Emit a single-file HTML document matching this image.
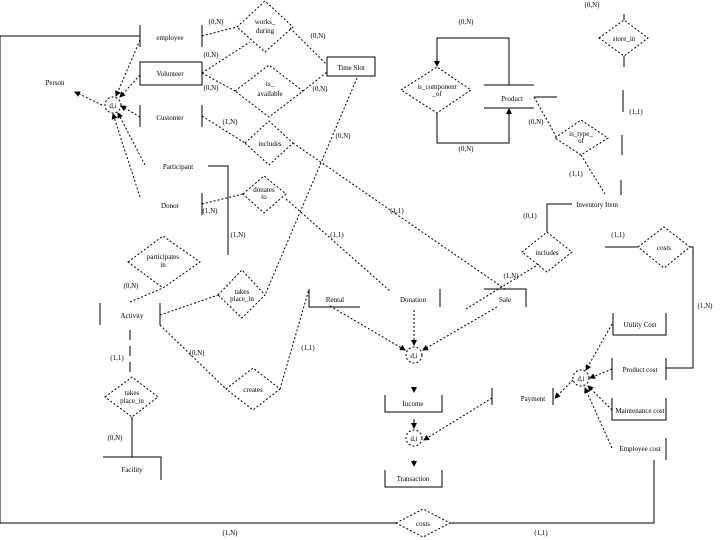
<!DOCTYPE html>
<html><head><style>body{margin:0;background:#fff}svg{display:block}text{font-family:"Liberation Serif",serif;font-size:7px;fill:#000;text-anchor:middle}</style></head>
<body>
<svg width="720" height="540" viewBox="0 0 720 540" xmlns="http://www.w3.org/2000/svg">
<defs><marker id="a" markerWidth="6" markerHeight="6" refX="5" refY="3" orient="auto"><path d="M0,0L6,3L0,6z" fill="#000"/></marker></defs>
<g stroke="#000" fill="none" stroke-width="1">
<polyline points="140,36 0,36 0,523 396,523"/>
<polyline points="450,523 654,523 654,460"/>
<polygon points="396,523 423,509 450,523 423,537" stroke-dasharray="2,2"/>
<line x1="140" y1="25" x2="140" y2="47"/><line x1="202" y1="25" x2="202" y2="47"/>
<rect x="140" y="62" width="62" height="23"/>
<line x1="140" y1="105" x2="140" y2="127"/><line x1="202" y1="105" x2="202" y2="127"/>
<polyline points="208,166 228,166 228,255"/>
<line x1="202" y1="193" x2="202" y2="215"/>
<rect x="327" y="57" width="48" height="19"/>
<g stroke-dasharray="2,2">
<polygon points="237,27 265,1 293,27 265,52"/>
<polygon points="235,91 269,65 303,91 269,117"/>
<polygon points="245,143 269,121 293,143 269,165"/>
<polygon points="243,194 264,176 286,194 264,213"/>
<polygon points="128,262 163,236 200,262 163,288"/>
<polygon points="218,295 242,270 265,295 242,318"/>
<polygon points="226,389 253,368 280,389 253,410"/>
<polygon points="105,397 132,377 158,397 132,417"/>
<polygon points="401,90 437,67 471,90 437,113"/>
<polygon points="555,138 581,120 608,138 581,155"/>
<polygon points="599,38 624,20 648,38 624,56"/>
<polygon points="522,252 547,232 572,252 547,272"/>
<polygon points="638,247 664,227 690,247 664,268"/>
<line x1="202" y1="36" x2="237" y2="27"/>
<line x1="202" y1="73" x2="250" y2="42"/>
<line x1="202" y1="73" x2="237" y2="92"/>
<line x1="290" y1="28" x2="327" y2="65"/>
<line x1="303" y1="91" x2="327" y2="72"/>
<line x1="202" y1="116" x2="245" y2="143"/>
<line x1="293" y1="143" x2="505" y2="289"/>
<line x1="202" y1="204" x2="243" y2="194"/>
<line x1="286" y1="199" x2="390" y2="291"/>
<line x1="357" y1="78" x2="265" y2="295"/>
<line x1="160" y1="315" x2="218" y2="295"/>
<line x1="160" y1="325" x2="226" y2="389"/>
<line x1="280" y1="389" x2="309" y2="289"/>
<line x1="130" y1="302" x2="163" y2="288"/>
<line x1="466" y1="309" x2="539" y2="264"/>
<line x1="534" y1="97" x2="557" y2="138"/>
<line x1="581" y1="155" x2="605" y2="194"/>
<line x1="102" y1="105" x2="75" y2="92" marker-end="url(#a)"/>
<circle cx="113" cy="105" r="8"/>
<line x1="140" y1="40" x2="116" y2="96" marker-end="url(#a)"/>
<line x1="140" y1="75" x2="120" y2="97" marker-end="url(#a)"/>
<line x1="140" y1="117" x2="121" y2="106" marker-end="url(#a)"/>
<line x1="145" y1="165" x2="118" y2="113" marker-end="url(#a)"/>
<line x1="140" y1="197" x2="113" y2="114" marker-end="url(#a)"/>
<circle cx="414" cy="355" r="8"/>
<line x1="330" y1="306" x2="405" y2="350" marker-end="url(#a)"/>
<line x1="414" y1="310" x2="414" y2="345" marker-end="url(#a)"/>
<line x1="497" y1="307" x2="423" y2="350" marker-end="url(#a)"/>
<circle cx="414" cy="438" r="8"/>
<line x1="492" y1="398" x2="424" y2="440" marker-end="url(#a)"/>
<circle cx="581" cy="378" r="8"/>
<line x1="573" y1="380" x2="555" y2="398" marker-end="url(#a)"/>
<line x1="612" y1="324" x2="586" y2="370" marker-end="url(#a)"/>
<line x1="612" y1="369" x2="590" y2="378" marker-end="url(#a)"/>
<line x1="612" y1="410" x2="588" y2="386" marker-end="url(#a)"/>
<line x1="612" y1="448" x2="585" y2="388" marker-end="url(#a)"/>
</g>
<line x1="100" y1="303" x2="100" y2="325"/><line x1="160" y1="303" x2="160" y2="325"/>
<line x1="130" y1="330" x2="130" y2="375" stroke-dasharray="10,6"/>
<polyline points="132,417 132,457 103,457"/><polyline points="132,457 161,457 161,480"/>
<polyline points="309,289 309,307 360,307"/>
<line x1="440" y1="289" x2="440" y2="307"/>
<polyline points="484,289 526,289 526,307"/>
<polyline points="385,395 385,412 442,412 442,395"/>
<line x1="414" y1="387" x2="414" y2="392" marker-end="url(#a)"/>
<line x1="414" y1="419" x2="414" y2="428" marker-end="url(#a)"/>
<line x1="414" y1="460" x2="414" y2="466" marker-end="url(#a)"/>
<polyline points="385,470 385,487 442,487 442,470"/>
<line x1="492" y1="388" x2="492" y2="405"/><line x1="553" y1="388" x2="553" y2="405"/>
<polyline points="613,313 613,335 666,335 666,313"/>
<line x1="612" y1="358" x2="612" y2="380"/><line x1="666" y1="358" x2="666" y2="380"/>
<polyline points="666,368 693,368 693,247 690,247"/>
<line x1="605" y1="247" x2="638" y2="247"/>
<polyline points="612,398 612,420 666,420 666,398"/>
<line x1="666" y1="438" x2="666" y2="460"/>
<line x1="484" y1="85" x2="534" y2="85"/><line x1="484" y1="108" x2="534" y2="108"/>
<line x1="534" y1="97" x2="557" y2="97"/>
<polyline points="509,85 509,38 437,38 437,66" marker-end="url(#a)"/>
<polyline points="437,113 437,143 509,143 509,109" marker-end="url(#a)"/>
<line x1="624" y1="14" x2="624" y2="20"/><line x1="624" y1="56" x2="624" y2="67"/>
<line x1="623" y1="90" x2="623" y2="112"/><line x1="622" y1="135" x2="622" y2="155"/><line x1="621" y1="180" x2="621" y2="195"/>
<polyline points="547,232 547,204 572,204"/>
</g>
<g>
<text x="170" y="40">employee</text><text x="265" y="24">works_</text><text x="265" y="33">during</text>
<text x="170" y="76">Volunteer</text><text x="270" y="86">is_</text><text x="270" y="96">available</text>
<text x="351" y="70">Time Slot</text><text x="170" y="120">Customer</text><text x="270" y="146">includes</text>
<text x="178" y="169">Participant</text><text x="170" y="208">Donor</text>
<text x="264" y="192" font-size="5">donates</text><text x="264" y="199" font-size="5">to</text>
<text x="55" y="85">Person</text><text x="113" y="108" font-size="6">d,i</text>
<text x="163" y="259" font-size="6">participates</text><text x="163" y="267" font-size="6">in</text>
<text x="132" y="318">Activity</text><text x="242" y="294" font-size="5">takes</text><text x="242" y="301" font-size="5">place_in</text>
<text x="335" y="302">Rental</text><text x="413" y="302">Donation</text><text x="505" y="302">Sale</text>
<text x="253" y="392" font-size="6.5">creates</text>
<text x="132" y="395" font-size="5">takes</text><text x="132" y="403" font-size="6.5">place_in</text>
<text x="132" y="472">Facility</text><text x="414" y="358" font-size="6">d,i</text><text x="413" y="406">Income</text>
<text x="414" y="441" font-size="6">d,i</text><text x="413" y="481">Transaction</text><text x="533" y="401">Payment</text>
<text x="581" y="381" font-size="6">d,i</text>
<text x="640" y="327" font-size="6.5">Utility Cost</text><text x="640" y="372" font-size="6.5">Product cost</text><text x="640" y="413" font-size="6.5">Maintenance cost</text><text x="640" y="451" font-size="6.5">Employee cost</text>
<text x="512" y="101">Product</text><text x="437" y="89" font-size="5.5">is_component</text><text x="437" y="96" font-size="5.5">_of</text>
<text x="581" y="136" font-size="5">is_type_</text><text x="581" y="143" font-size="5">of</text>
<text x="624" y="41" font-size="6.5">store_in</text><text x="597" y="207" font-size="6.5">Inventory Item</text>
<text x="547" y="255" font-size="6.5">includes</text><text x="664" y="250" font-size="6.5">costs</text><text x="423" y="526" font-size="6.5">costs</text>
<g font-size="6.5">
<text x="216" y="24">(0,N)</text><text x="318" y="38">(0,N)</text><text x="211" y="57">(0,N)</text>
<text x="211" y="90">(0,N)</text><text x="320" y="91">(0,N)</text><text x="230" y="124">(1,N)</text>
<text x="343" y="138">(0,N)</text><text x="210" y="213">(1,N)</text><text x="238" y="237">(1,N)</text>
<text x="337" y="237">(1,1)</text><text x="397" y="213">(1,1)</text><text x="131" y="288">(0,N)</text>
<text x="197" y="355">(0,N)</text><text x="308" y="350">(1,1)</text><text x="117" y="360">(1,1)</text>
<text x="115" y="440">(0,N)</text><text x="230" y="535">(1,N)</text><text x="541" y="535">(1,1)</text>
<text x="466" y="24">(0,N)</text><text x="466" y="151">(0,N)</text><text x="536" y="124">(0,N)</text>
<text x="576" y="176">(1,1)</text><text x="530" y="218">(0,1)</text><text x="511" y="278">(1,N)</text>
<text x="592" y="7">(0,N)</text><text x="636" y="114">(1,1)</text><text x="618" y="237">(1,1)</text>
<text x="705" y="308">(1,N)</text>
</g>
</g>
</svg>
</body></html>
